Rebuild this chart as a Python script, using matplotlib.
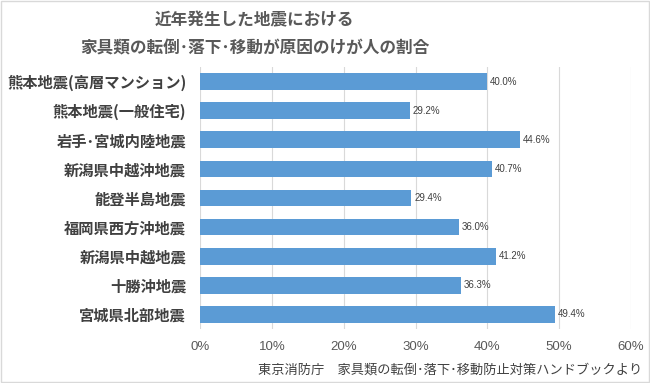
import numpy as np
import matplotlib
matplotlib.use("Agg")
import matplotlib.pyplot as plt

plt.rcParams['font.family'] = ['Noto Sans CJK JP', 'DejaVu Sans']

#data (top to bottom)
quakes = ["熊本地震(高層マンション)", "熊本地震(一般住宅)", "岩手･宮城内陸地震",
          "新潟県中越沖地震", "能登半島地震", "福岡県西方沖地震",
          "新潟県中越地震", "十勝沖地震", "宮城県北部地震"]
share = [40.0, 29.2, 44.6, 40.7, 29.4, 36.0, 41.2, 36.3, 49.4]
xticks = [0, 10, 20, 30, 40, 50, 60]

title = "近年発生した地震における\n家具類の転倒･落下･移動が原因のけが人の割合"
source = "東京消防庁　家具類の転倒･落下･移動防止対策ハンドブックより"

fig = plt.figure(figsize=(6.5, 3.83), dpi=100)
ax = fig.add_axes([0.3077, 0.141, 0.6631, 0.684])

ypos = np.arange(len(quakes))[::-1]
ax.barh(ypos, share, height=0.57, color='#5b9bd5', zorder=3)
for y, v in zip(ypos, share):
    ax.text(v + 0.4, y, f"{v:.1f}%", va='center', ha='left', fontsize=7,
            color='#404040', family=['Liberation Sans', 'DejaVu Sans'])

ax.set_xlim(0, 60)
ax.set_ylim(-0.5, len(quakes) - 0.5)
ax.set_xticks(xticks)
ax.set_xticklabels([f"{t}%" for t in xticks], fontsize=9.5, color='#595959',
                   family=['Liberation Sans', 'DejaVu Sans'])
ax.set_yticks(ypos)
ax.set_yticklabels(quakes, fontsize=11, color='#404040', fontweight='bold')
ax.tick_params(axis='both', length=0)
ax.tick_params(axis='x', pad=9)
ax.tick_params(axis='y', pad=10)
ax.grid(axis='x', color='#d9d9d9', linewidth=0.8, zorder=0)
for s in ax.spines.values():
    s.set_visible(False)

fig.text(0.392, 0.91, title, ha='center', va='center', fontsize=12,
         fontweight='bold', color='#595959', linespacing=1.75)
fig.text(0.988, 0.034, source, ha='right', va='center', fontsize=9.5, color='#404040')

#light frame around the whole picture
fig.patches.append(plt.Rectangle((0.002, 0.003), 0.996, 0.994, transform=fig.transFigure,
                                 fill=False, edgecolor='#d9d9d9', linewidth=1))

plt.savefig("out.png", dpi=100)
plt.close(fig)
